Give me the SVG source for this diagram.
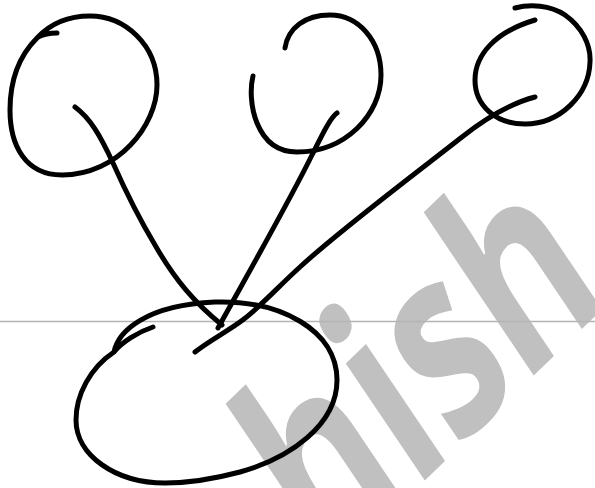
<svg xmlns="http://www.w3.org/2000/svg" width="595" height="488" viewBox="0 0 595 488">
<style>
.ink{fill:none;stroke:#000;stroke-width:5;stroke-linecap:round;stroke-linejoin:round}
.wm{font-family:"Open Sans","Liberation Sans",sans-serif;font-weight:700;font-size:255px;fill:#c0c0c0}
</style>
<rect width="595" height="488" fill="#fff"/>
<g id="watermark">
<text class="wm" transform="translate(325,577) rotate(-44) skewX(-10) scale(0.74,1)">hish</text>
</g>
<line id="guide" x1="0" y1="321.5" x2="595" y2="321.5" stroke="#b4b4b4" stroke-width="1.5"/>
<g id="node-top-left">
<path class="ink" d="M57,33 C50,33 40,35 37,38 C50,24 68,16 90,16 C125,16 157,45 157,85 C157,125 118,175 62,175 C25,175 10,145 10,110 C10,80 20,55 37,38"/>
</g>
<g id="node-top-middle">
<path class="ink" d="M253,76 C247,100 255,152 297,152 C345,152 381,115 381,75 C381,40 358,15 330,15 C305,15 288,28 285,48"/>
</g>
<g id="node-top-right">
<path class="ink" d="M515,8 C530,4 550,5 565,15 C582,27 591,45 590,62 C589,95 560,124 525,124 C495,124 475,105 475,80 C475,55 495,32 535,20"/>
</g>
<g id="node-bottom">
<path class="ink" d="M153,327 C138,332 122,342 114,352 C118,332 145,305 215,302 C280,300 337,330 337,380 C337,425 290,458 240,472 C210,480 185,483 165,483 C115,483 76,455 76,420 C76,395 90,368 114,352"/>
</g>
<g id="connectors">
<path class="ink" d="M75,107 C90,118 100,135 113,163 C125,190 140,220 155,245 C175,280 195,303 222,325"/>
<path class="ink" d="M337,113 C330,118 322,135 312,155 C290,200 250,270 218,328"/>
<path class="ink" d="M535,97 C512,103 490,115 462,137 C420,170 340,230 300,267 C280,285 262,305 244,319 C230,330 210,340 195,352"/>
</g>
</svg>
